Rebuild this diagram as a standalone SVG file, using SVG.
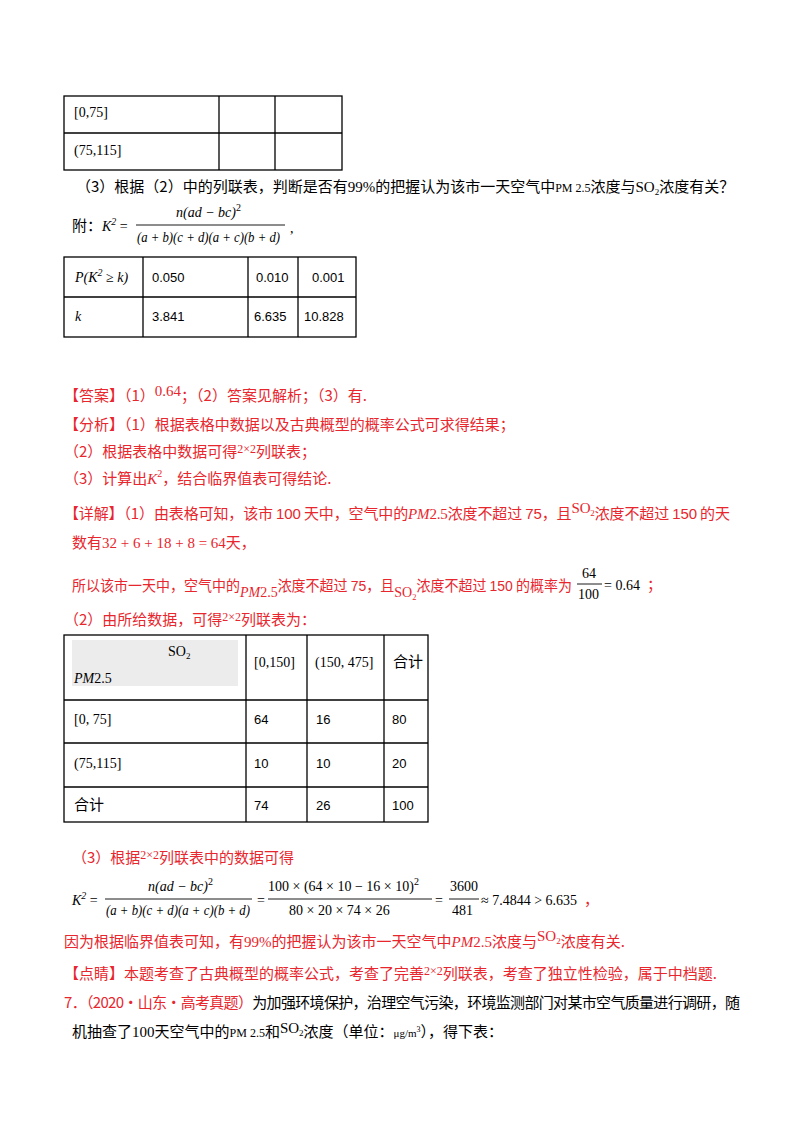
<svg xmlns="http://www.w3.org/2000/svg" width="800" height="1132" viewBox="0 0 800 1132">
<style>
text{font-family:"Liberation Serif","Noto Sans CJK SC",serif;font-size:14px;fill:#000}
.c{font-family:"Noto Sans CJK SC","Liberation Sans",sans-serif;font-size:15px}
.s{font-family:"Liberation Sans","Noto Sans CJK SC",sans-serif;font-size:13px}
.r,.r tspan{fill:#e8262d}
.i{font-style:italic}
.sm{font-size:10px}
.g line,.g rect{stroke:#000;stroke-width:1.3;fill:none}
.fl{stroke:#000;stroke-width:0.9}
</style>
<rect width="800" height="1132" fill="#fff"/>
<g id="table1" class="g">
<rect x="64" y="96" width="278" height="74"/>
<line x1="64" y1="133" x2="342" y2="133"/>
<line x1="219" y1="96" x2="219" y2="170"/>
<line x1="275" y1="96" x2="275" y2="170"/>
</g>
<text x="74" y="117" font-size="12">[0,75]</text>
<text x="74" y="155" font-size="12">(75,115]</text>
<text x="76" y="192" class="c">（3）根据（2）中的列联表，判断是否有<tspan font-family="Liberation Serif">99%</tspan>的把握认为该市一天空气中<tspan font-family="Liberation Serif" font-size="12">PM 2.5</tspan>浓度与<tspan font-family="Liberation Serif">SO<tspan font-size="9" dy="3">2</tspan></tspan><tspan dy="-3">浓度有关？</tspan></text>
<g id="formula1">
<text x="72" y="231" class="c">附：</text>
<text x="102" y="231" class="i">K<tspan class="sm" dy="-6">2</tspan><tspan dy="6" font-style="normal"> =</tspan></text>
<text x="176" y="217" class="i">n(ad − bc)<tspan class="sm" font-style="normal" dy="-6">2</tspan></text>
<line class="fl" x1="136" y1="225" x2="285" y2="225"/>
<text x="137" y="242" class="i" textLength="143" lengthAdjust="spacingAndGlyphs">(a + b)(c + d)(a + c)(b + d)</text>
<text x="290" y="233">,</text>
</g>
<g id="table2" class="g">
<rect x="64" y="257" width="292" height="80"/>
<line x1="64" y1="297" x2="356" y2="297"/>
<line x1="143" y1="257" x2="143" y2="337"/>
<line x1="248" y1="257" x2="248" y2="337"/>
<line x1="298" y1="257" x2="298" y2="337"/>
</g>
<text x="75" y="282" class="i">P(K<tspan class="sm" dy="-6">2</tspan><tspan dy="6"> ≥ k)</tspan></text>
<text x="152" y="282" class="s">0.050</text>
<text x="256" y="282" class="s">0.010</text>
<text x="312" y="282" class="s">0.001</text>
<text x="75" y="321" class="i">k</text>
<text x="152" y="321" class="s">3.841</text>
<text x="254" y="321" class="s">6.635</text>
<text x="304" y="321" class="s">10.828</text>

<text x="64" y="401" class="c r">【答案】（1）<tspan font-family="Liberation Serif" fill="#000" dy="-5">0.64</tspan><tspan dy="5">；（2）答案见解析；（3）有.</tspan></text>
<text x="64" y="430" class="c r">【分析】（1）根据表格中数据以及古典概型的概率公式可求得结果；</text>
<text x="64" y="457" class="c r">（2）根据表格中数据可得<tspan font-family="Liberation Serif" fill="#000" font-size="12" dy="-4">2×2</tspan><tspan dy="4">列联表；</tspan></text>
<text x="64" y="484" class="c r">（3）计算出<tspan font-family="Liberation Serif" font-style="italic" fill="#000">K</tspan><tspan font-family="Liberation Serif" fill="#000" font-size="10" dy="-7">2</tspan><tspan dy="7">，结合临界值表可得结论.</tspan></text>
<text x="64" y="519" class="c r" textLength="666" lengthAdjust="spacing">【详解】（1）由表格可知，该市 <tspan font-family="Liberation Sans">100</tspan> 天中，空气中的<tspan font-family="Liberation Serif" font-style="italic" fill="#000">PM</tspan><tspan font-family="Liberation Serif" fill="#000">2.5</tspan>浓度不超过 <tspan font-family="Liberation Sans">75</tspan>，且<tspan font-family="Liberation Serif" fill="#000" dy="-6">SO<tspan font-size="9" dy="3">2</tspan></tspan><tspan dy="3">浓度不超过 </tspan><tspan font-family="Liberation Sans">150</tspan> 的天</text>
<text x="72" y="548" class="c r">数有<tspan font-family="Liberation Serif" fill="#000">32 + 6 + 18 + 8 = 64</tspan>天，</text>
<text x="72" y="591" class="c r" textLength="500" lengthAdjust="spacingAndGlyphs">所以该市一天中，空气中的<tspan font-family="Liberation Serif" font-style="italic" fill="#000" dy="6">PM</tspan><tspan font-family="Liberation Serif" fill="#000">2.5</tspan><tspan dy="-6">浓度不超过 </tspan><tspan font-family="Liberation Sans">75</tspan>，且<tspan font-family="Liberation Serif" fill="#000" dy="6">SO<tspan font-size="9" dy="3">2</tspan></tspan><tspan dy="-9">浓度不超过 </tspan><tspan font-family="Liberation Sans">150</tspan> 的概率为</text>
<text x="582" y="578" font-size="13">64</text>
<line class="fl" x1="577" y1="584" x2="602" y2="584"/>
<text x="578" y="599" font-size="13">100</text>
<text x="604" y="590">= 0.64</text>
<text x="647" y="590" class="c r">；</text>
<text x="64" y="625" class="c r">（2）由所给数据，可得<tspan font-family="Liberation Serif" fill="#000" font-size="12" dy="-4">2×2</tspan><tspan dy="4">列联表为：</tspan></text>

<rect x="72" y="640" width="166" height="46" fill="#ececec"/>
<g id="table3" class="g">
<rect x="64" y="635" width="364" height="187"/>
<line x1="64" y1="700" x2="428" y2="700"/>
<line x1="64" y1="743" x2="428" y2="743"/>
<line x1="64" y1="787" x2="428" y2="787"/>
<line x1="246" y1="635" x2="246" y2="822"/>
<line x1="307" y1="635" x2="307" y2="822"/>
<line x1="384" y1="635" x2="384" y2="822"/>
</g>
<text x="168" y="656">SO<tspan font-size="9" dy="3">2</tspan></text>
<text x="74" y="683" class="i">PM<tspan font-style="normal">2.5</tspan></text>
<text x="254" y="667">[0,150]</text>
<text x="315" y="667">(150, 475]</text>
<text x="393" y="667" class="c">合计</text>
<text x="74" y="724">[0, 75]</text>
<text x="74" y="768">(75,115]</text>
<text x="74" y="810" class="c">合计</text>
<text x="254" y="724" class="s">64</text><text x="316" y="724" class="s">16</text><text x="392" y="724" class="s">80</text>
<text x="254" y="768" class="s">10</text><text x="316" y="768" class="s">10</text><text x="392" y="768" class="s">20</text>
<text x="254" y="810" class="s">74</text><text x="316" y="810" class="s">26</text><text x="392" y="810" class="s">100</text>

<text x="72" y="863" class="c r">（3）根据<tspan font-family="Liberation Serif" fill="#000" font-size="12" dy="-4">2×2</tspan><tspan dy="4">列联表中的数据可得</tspan></text>
<g id="formula2">
<text x="72" y="905" class="i">K<tspan class="sm" dy="-6">2</tspan><tspan dy="6" font-style="normal"> =</tspan></text>
<text x="148" y="891" class="i">n(ad − bc)<tspan class="sm" font-style="normal" dy="-6">2</tspan></text>
<line class="fl" x1="105" y1="899" x2="252" y2="899"/>
<text x="106" y="915" class="i" textLength="144" lengthAdjust="spacingAndGlyphs">(a + b)(c + d)(a + c)(b + d)</text>
<text x="257" y="905">=</text>
<text x="268" y="891">100 × (64 × 10 − 16 × 10)<tspan class="sm" dy="-6">2</tspan></text>
<line class="fl" x1="268" y1="899" x2="432" y2="899"/>
<text x="289" y="915">80 × 20 × 74 × 26</text>
<text x="435" y="905">=</text>
<text x="450" y="891">3600</text>
<line class="fl" x1="449" y1="899" x2="479" y2="899"/>
<text x="452" y="915">481</text>
<text x="481" y="905">≈ 7.4844 &gt; 6.635</text>
<text x="584" y="905" class="c r">，</text>
</g>
<text x="64" y="947" class="c r">因为根据临界值表可知，有<tspan font-family="Liberation Serif" fill="#000">99%</tspan>的把握认为该市一天空气中<tspan font-family="Liberation Serif" font-style="italic" fill="#000">PM</tspan><tspan font-family="Liberation Serif" fill="#000">2.5</tspan>浓度与<tspan font-family="Liberation Serif" fill="#000" dy="-6">SO<tspan font-size="9" dy="3">2</tspan></tspan><tspan dy="3">浓度有关.</tspan></text>
<text x="64" y="979" class="c r">【点睛】本题考查了古典概型的概率公式，考查了完善<tspan font-family="Liberation Serif" fill="#000" font-size="12" dy="-4">2×2</tspan><tspan dy="4">列联表，考查了独立性检验，属于中档题.</tspan></text>
<text x="64" y="1008" class="c" textLength="676" lengthAdjust="spacing"><tspan fill="#e8262d">7．（2020·山东·高考真题）</tspan>为加强环境保护，治理空气污染，环境监测部门对某市空气质量进行调研，随</text>
<text x="72" y="1037" class="c">机抽查了<tspan font-family="Liberation Serif">100</tspan>天空气中的<tspan font-family="Liberation Serif" font-size="12">PM 2.5</tspan>和<tspan font-family="Liberation Serif" dy="-4">SO<tspan font-size="9" dy="3">2</tspan></tspan><tspan dy="1">浓度（单位：</tspan><tspan font-family="Liberation Serif" font-size="11">μg/m<tspan font-size="8" dy="-5">3</tspan></tspan><tspan dy="5">），得下表：</tspan></text>
</svg>
